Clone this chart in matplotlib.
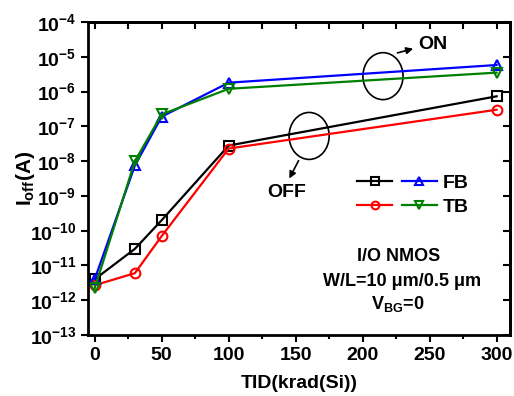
import matplotlib
matplotlib.use('Agg')
import matplotlib.pyplot as plt
import numpy as np
from matplotlib.patches import Ellipse
from matplotlib.ticker import FixedLocator, MultipleLocator, FuncFormatter

plt.rcParams['font.family'] = 'Liberation Sans'
plt.rcParams['font.weight'] = 'bold'
plt.rcParams['mathtext.fontset'] = 'custom'
plt.rcParams['mathtext.rm'] = 'Liberation Sans:bold'
plt.rcParams['mathtext.bf'] = 'Liberation Sans:bold'
plt.rcParams['mathtext.it'] = 'Liberation Sans:bold'

# data
tid = [0, 30, 50, 100, 300]
fb_off = [4.0e-12, 3.0e-11, 2.0e-10, 2.8e-8, 7.3e-7]
tb_off = [2.7e-12, 6.0e-12, 7.0e-11, 2.3e-8, 3.0e-7]
fb_on = [4.0e-12, 7.5e-9, 1.9e-7, 1.8e-6, 5.8e-6]
tb_on = [2.2e-12, 1.0e-8, 2.2e-7, 1.2e-6, 3.5e-6]
decades = list(range(-13, -3))

fig = plt.figure(figsize=(5.14, 3.96), dpi=100)
ax = fig.add_axes([88 / 514, 1 - 335 / 396, 422 / 514, 313 / 396])

kw = dict(lw=1.6, ms=7, mfc='none', mew=1.5)
l1, = ax.plot(tid, fb_off, color='black', marker='s', **kw)
l2, = ax.plot(tid, tb_off, color='red', marker='o', **kw)
l3, = ax.plot(tid, fb_on, color='blue', marker='^', **kw)
l4, = ax.plot(tid, tb_on, color='green', marker='v', **kw)

ax.set_yscale('log')
ax.set_xlim(-5, 310)
ax.set_ylim(1e-13, 1e-4)
ax.yaxis.set_major_locator(FixedLocator([10.0 ** d for d in decades]))
ax.yaxis.set_minor_locator(FixedLocator([]))
ax.yaxis.set_major_formatter(FuncFormatter(lambda v, p: r'$\mathbf{10^{%d}}$' % round(np.log10(v))))
ax.xaxis.set_major_locator(MultipleLocator(50))
ax.xaxis.set_minor_locator(MultipleLocator(25))

for s in ax.spines.values():
    s.set_linewidth(2)
ax.tick_params(axis='both', which='major', labelsize=14, width=1.5, length=5)
ax.tick_params(axis='x', which='minor', width=1.5, length=3)
ax.tick_params(axis='x', which='both', direction='out', top=False)
ax.tick_params(axis='y', which='both', direction='out', right=False)

# inward ticks on top and right
sec = ax.secondary_xaxis('top')
sec.xaxis.set_major_locator(MultipleLocator(50))
sec.xaxis.set_minor_locator(MultipleLocator(25))
sec.tick_params(which='both', direction='in', labeltop=False, width=1.5, length=5)
sec.spines['top'].set_linewidth(2)
secy = ax.secondary_yaxis('right')
secy.set_yscale('log')
secy.yaxis.set_major_locator(FixedLocator([10.0 ** d for d in decades]))
secy.yaxis.set_minor_locator(FixedLocator([]))
secy.tick_params(which='both', direction='in', labelright=False, width=1.5, length=5)
secy.spines['right'].set_linewidth(2)

ax.set_xlabel('TID(krad(Si))', fontsize=14, fontweight='bold', labelpad=8)
ax.set_ylabel(r'$\mathbf{I_{off}}$(A)', fontsize=15, fontweight='bold')
ax.yaxis.set_label_coords(-0.122, 0.5)

ax.legend([l1, l2, l3, l4], ['', '', 'FB', 'TB'], ncol=2, frameon=False,
          fontsize=14, loc='center', bbox_to_anchor=(0.77, 0.447),
          handlelength=1.8, handletextpad=0.3, columnspacing=0.2,
          labelspacing=0.3, borderpad=0.1, markerscale=0.8)

# ellipses and arrows
ax.add_patch(Ellipse((0.699, 0.827), 0.095, 0.150, transform=ax.transAxes,
                     fill=False, lw=1.2, color='black'))
ax.add_patch(Ellipse((0.524, 0.636), 0.095, 0.150, transform=ax.transAxes,
                     fill=False, lw=1.2, color='black'))
ax.annotate('', xy=(0.777, 0.917), xytext=(0.727, 0.899), xycoords='axes fraction',
            arrowprops=dict(arrowstyle='-|>', color='black', lw=1.2, mutation_scale=10))
ax.text(0.783, 0.927, 'ON', transform=ax.transAxes, fontsize=14, fontweight='bold',
        va='center', ha='left')
ax.annotate('', xy=(0.474, 0.492), xytext=(0.502, 0.565), xycoords='axes fraction',
            arrowprops=dict(arrowstyle='-|>', color='black', lw=1.2, mutation_scale=10))
ax.text(0.472, 0.455, 'OFF', transform=ax.transAxes, fontsize=14, fontweight='bold',
        va='center', ha='center')

ax.text(0.735, 0.25, 'I/O NMOS', transform=ax.transAxes, fontsize=13, fontweight='bold',
        ha='center', va='center')
ax.text(0.745, 0.17, 'W/L=10 μm/0.5 μm', transform=ax.transAxes, fontsize=13,
        fontweight='bold', ha='center', va='center')
ax.text(0.735, 0.10, r'V$_{\mathbf{BG}}$=0', transform=ax.transAxes, fontsize=13,
        fontweight='bold', ha='center', va='center')

fig.savefig('out.png', dpi=100)
